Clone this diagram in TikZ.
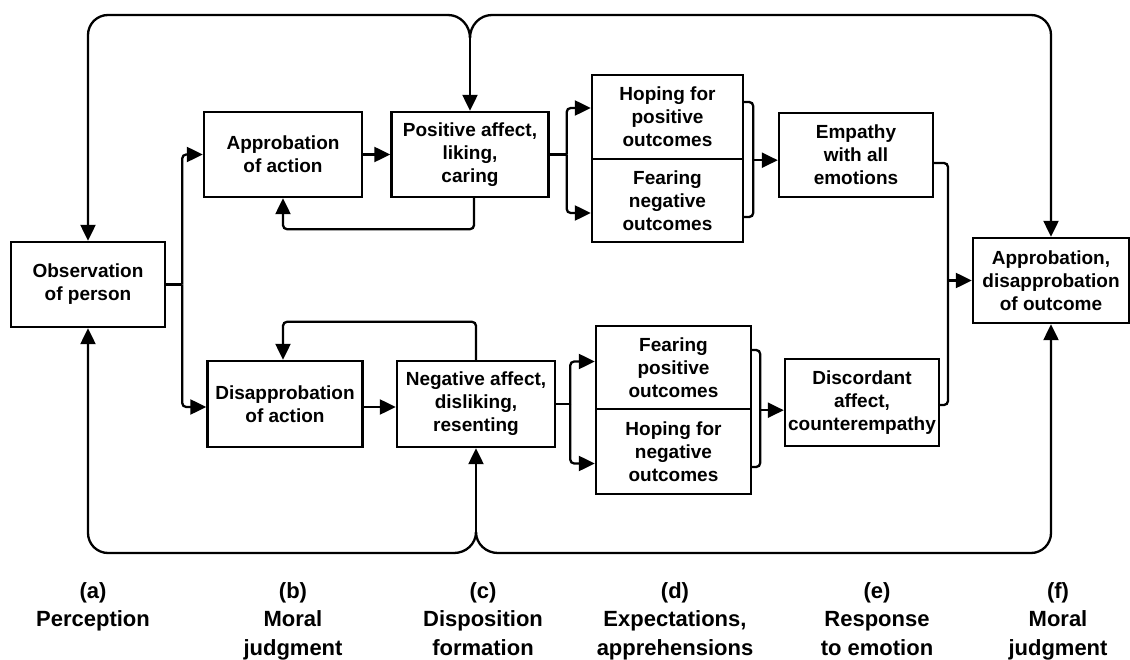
\documentclass[tikz,border=0pt]{standalone}
\usepackage{fontspec}
\setmainfont{Liberation Sans}
\usetikzlibrary{arrows.meta,calc}
\begin{document}
\begin{tikzpicture}[x=1pt,y=-1pt,
  box/.style={draw, line width=2.4pt, rectangle, inner sep=0pt, align=center,
    font=\fontsize{19}{23}\selectfont\bfseries},
  ln/.style={line width=2.3pt},
  arr/.style={line width=2.3pt, -{Triangle[length=16pt,width=15pt]}},
  lab/.style={inner sep=0pt, align=center, anchor=north,
    font=\fontsize{22}{28.5}\selectfont\bfseries}]
\useasboundingbox (0,0) rectangle (1130,660);
\clip (0,0) rectangle (1130,660);
\fill[white] (0,0) rectangle (1130,660);

% boxes
\node[box, minimum width=154pt, minimum height=85pt] (obs) at (88,284.5) {Observation\\of person};
\node[box, minimum width=158pt, minimum height=85pt] (appr) at (283,154.5) {Approbation\\of action};
\node[box, minimum width=157pt, minimum height=85pt] (pos) at (470,154.5) {Positive affect,\\liking,\\caring};
\node[box, minimum width=151pt, minimum height=84pt] (hopeP) at (667.5,117) {Hoping for\\positive\\outcomes};
\node[box, minimum width=151pt, minimum height=83pt] (fearN) at (667.5,200.5) {Fearing\\negative\\outcomes};
\node[box, minimum width=154pt, minimum height=84pt] (emp) at (856,155) {Empathy\\with all\\emotions};
\node[box, minimum width=156pt, minimum height=85pt] (out) at (1051,280.5) {Approbation,\\disapprobation\\of outcome};
\node[box, minimum width=155pt, minimum height=86pt] (disap) at (285,404) {Disapprobation\\of action};
\node[box, minimum width=158pt, minimum height=86pt] (neg) at (476,404) {Negative affect,\\disliking,\\resenting};
\node[box, minimum width=155pt, minimum height=83pt] (fearP) at (673.5,367.5) {Fearing\\positive\\outcomes};
\node[box, minimum width=155pt, minimum height=85pt] (hopeN) at (673.5,451.5) {Hoping for\\negative\\outcomes};
\node[box, minimum width=154pt, minimum height=87pt] (disc) at (862,402.5) {Discordant\\affect,\\counterempathy};

% top bus
\coordinate (tj) at (470,38);
\coordinate (tl) at (448,15);
\coordinate (tr) at (492,15);
\draw[arr] (tj) -- (pos.north);
\draw[ln] (tj) to[out=90,in=0] (tl);
\draw[ln] (tj) to[out=90,in=180] (tr);
\draw[arr, rounded corners=20pt] (tl) -| (obs.north);
\draw[arr, rounded corners=20pt] (tr) -| (out.north);

% bottom bus
\coordinate (bj) at (476,532);
\coordinate (bl) at (454,553);
\coordinate (br) at (498,553);
\draw[arr] (bj) -- (neg.south);
\draw[ln] (bj) to[out=-90,in=0] (bl);
\draw[ln] (bj) to[out=-90,in=180] (br);
\draw[arr, rounded corners=20pt] (bl) -| (obs.south);
\draw[arr, rounded corners=20pt] (br) -| (out.south);

% observation branches
\coordinate (ob) at ($(obs.east)+(16,0)$);
\draw[ln] (obs.east) -- (ob);
\draw[arr, rounded corners=4pt] (ob) |- (appr.west);
\draw[arr, rounded corners=4pt] (ob) |- ([yshift=-3pt]disap.west);

% moral judgment -> disposition
\draw[arr] (appr) -- (pos);
\draw[arr] ([yshift=-3pt]disap.east) -- ([yshift=-3pt]neg.west);

% feedback loops
\draw[arr, rounded corners=4pt] ([xshift=4pt]pos.south) -- ++(0,31) -| (appr.south);
\draw[arr, rounded corners=4pt] (neg.north) -- ++(0,-38) -| ([xshift=-2pt]disap.north);

% disposition -> expectations
\coordinate (pb) at ($(pos.east)+(17,0)$);
\draw[ln] (pos.east) -- (pb);
\draw[arr, rounded corners=4pt] (pb) |- ([yshift=9pt]hopeP.west);
\draw[arr, rounded corners=4pt] (pb) |- ([yshift=-12.5pt]fearN.west);

\coordinate (nb) at ($(neg.east)+(14,0)$);
\draw[ln] (neg.east) -- (nb);
\draw[arr, rounded corners=4pt] (nb) |- ([yshift=6pt]fearP.west);
\draw[arr, rounded corners=4pt] (nb) |- ([yshift=-12pt]hopeN.west);

% brackets -> response
\draw[ln, rounded corners=4pt] ([yshift=15pt]hopeP.east) -- ++(9,0) |- ([yshift=-16.5pt]fearN.east);
\coordinate (hb) at ($(hopeP.south east)+(9,0)$);
\draw[arr] (hb) -- (hb -| emp.west);
\draw[ln, rounded corners=4pt] ([yshift=17.5pt]fearP.east) -- ++(8,0) |- ([yshift=-15.5pt]hopeN.east);
\coordinate (lb) at ($(fearP.south east)+(8,0)$);
\draw[arr] (lb) -- (lb -| disc.west);

% response -> outcome
\draw[ln, rounded corners=4pt] ([yshift=-8pt]emp.east) -| (948,300) |- ([yshift=-2.5pt]disc.east);
\coordinate (ej) at (948,280.5);
\draw[arr] (ej) -- (out.west);

% stage labels
\node[lab] (la) at (93,582) {(a)\\Perception};
\node[lab] (lb2) at (293,582) {(b)\\Moral\\judgment};
\node[lab] (lc) at (483,582) {(c)\\Disposition\\formation};
\node[lab] (ld) at (675,582) {(d)\\Expectations,\\apprehensions};
\node[lab] (le) at (877,582) {(e)\\Response\\to emotion};
\node[lab] (lf) at (1058,582) {(f)\\Moral\\judgment};
\end{tikzpicture}
\end{document}
